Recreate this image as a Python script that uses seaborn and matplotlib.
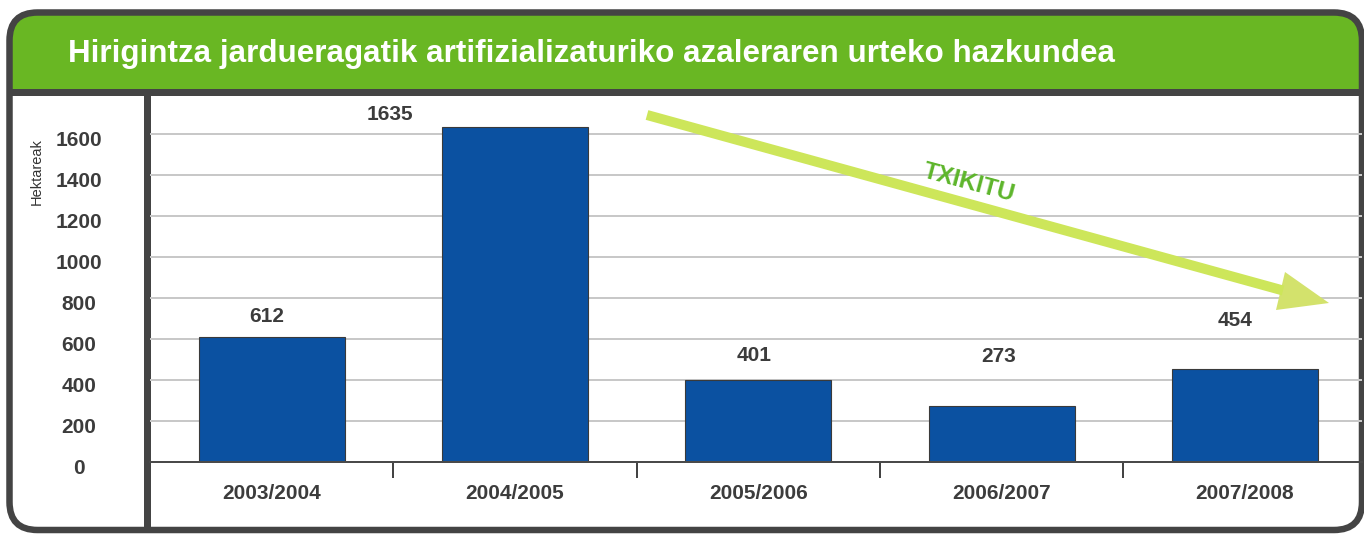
import matplotlib
matplotlib.use("Agg")
import matplotlib.pyplot as plt
import seaborn as sns
from matplotlib.patches import FancyBboxPatch, Rectangle, Polygon
from matplotlib.ticker import FixedLocator
from matplotlib.transforms import ScaledTranslation

# ---- data -------------------------------------------------------------
periods = ["2003/2004", "2004/2005", "2005/2006", "2006/2007", "2007/2008"]
hectares = [612, 1635, 401, 273, 454]
y_ticks = [0, 200, 400, 600, 800, 1000, 1200, 1400, 1600]

title = "Hirigintza jardueragatik artifizializaturiko azaleraren urteko hazkundea"
y_label = "Hektareak"
trend_label = "TXIKITU"

# ---- layout / style ---------------------------------------------------
W, H, DPI = 1364, 536, 100
PX = 72.0 / DPI                       # points per pixel
DARK = "#444444"
TEXT = "#3c3c3c"
GREEN = "#69b723"
BAR = "#0b51a1"
GRID = "#c8c8c8"
ARROW = "#cde65a"
ARROW_HEAD = "#d3e26c"
LABEL_GREEN = "#5db52b"

# value-label offsets from each bar top (pixels)
label_offsets = [(-5, 20), (-125, 12), (-4, 24), (-3, 50), (-10, 48)]

sns.set_theme(style="white")
plt.rcParams["font.family"] = ["Liberation Sans", "DejaVu Sans"]

fig = plt.figure(figsize=(W / DPI, H / DPI), dpi=DPI)

# background canvas in pixel coordinates (card, header, frame)
bg = fig.add_axes([0, 0, 1, 1], zorder=0)
bg.set_xlim(0, W)
bg.set_ylim(H, 0)
bg.axis("off")

card_x0, card_y0, card_x1, card_y1 = 9.5, 12.5, 1362.0, 530.0
card_fill = FancyBboxPatch((card_x0, card_y0), card_x1 - card_x0, card_y1 - card_y0,
                           boxstyle="round,pad=0,rounding_size=28",
                           facecolor="white", edgecolor="none")
bg.add_patch(card_fill)

header = Rectangle((0, 0), W, 91.5, facecolor=GREEN, edgecolor="none")
bg.add_patch(header)
header.set_clip_path(card_fill)

bg.plot([card_x0, card_x1], [91.5, 91.5], color=DARK, lw=7 * PX, solid_capstyle="butt")
bg.plot([146.5, 146.5], [91.5, card_y1], color=DARK, lw=7 * PX, solid_capstyle="butt")

card_edge = FancyBboxPatch((card_x0, card_y0), card_x1 - card_x0, card_y1 - card_y0,
                           boxstyle="round,pad=0,rounding_size=28",
                           facecolor="none", edgecolor=DARK, lw=6.5 * PX)
bg.add_patch(card_edge)

bg.text(68, 62, title, color="white", fontsize=22.6, fontweight="bold",
        ha="left", va="baseline")
bg.text(37, 172, y_label, color="#333333", fontsize=10.5, rotation=90,
        ha="center", va="center")

# ---- bar chart --------------------------------------------------------
ax_left, ax_right, ax_top, ax_bottom = 150, 1362, 95, 462
ax = fig.add_axes([ax_left / W, (H - ax_bottom) / H,
                   (ax_right - ax_left) / W, (ax_bottom - ax_top) / H], zorder=2)
ax.set_facecolor("none")

sns.barplot(x=periods, y=hectares, color=BAR, saturation=1, width=0.6,
            edgecolor="#3a3a3a", linewidth=0.8, ax=ax)

step = 243.0
ax.set_xlim(-0.5, -0.5 + (ax_right - 151.5) / step)
ax.set_ylim(0, 1790)
ax.set_yticks(y_ticks)
ax.set_xlabel("")
ax.set_ylabel("")

ax.yaxis.grid(True, color=GRID, lw=2 * PX)
ax.xaxis.grid(False)
ax.set_axisbelow(True)
for side in ("left", "right", "top"):
    ax.spines[side].set_visible(False)
ax.spines["bottom"].set_color("#4a4a4a")
ax.spines["bottom"].set_linewidth(2 * PX)

ax.tick_params(axis="y", length=0, pad=71 * PX, labelsize=15, labelcolor=TEXT)
shift_down = ScaledTranslation(0, -5 / DPI, fig.dpi_scale_trans)
for lab in ax.get_yticklabels():
    lab.set_fontweight("bold")
    lab.set_horizontalalignment("center")
    lab.set_transform(lab.get_transform() + shift_down)

ax.xaxis.set_minor_locator(FixedLocator([0.5, 1.5, 2.5, 3.5]))
ax.tick_params(axis="x", which="major", length=0, pad=16, labelsize=15, labelcolor=TEXT)
ax.tick_params(axis="x", which="minor", bottom=True, length=16 * PX, width=2 * PX,
               color=DARK, direction="out")
for lab in ax.get_xticklabels():
    lab.set_fontweight("bold")

for i, (v, (dx, dy)) in enumerate(zip(hectares, label_offsets)):
    ax.annotate(f"{v}", xy=(i, v), xytext=(dx, dy), textcoords="offset pixels",
                ha="center", va="center", fontsize=15, fontweight="bold", color=TEXT)

# ---- trend arrow overlay ---------------------------------------------
ov = fig.add_axes([0, 0, 1, 1], zorder=3)
ov.set_xlim(0, W)
ov.set_ylim(H, 0)
ov.axis("off")
ov.set_facecolor("none")
ov.plot([647, 1283], [115, 290.5], color=ARROW, lw=10 * PX, solid_capstyle="butt")
ov.add_patch(Polygon([(1285, 272), (1329, 303), (1276, 310)], closed=True,
                     facecolor=ARROW_HEAD, edgecolor="none"))
ov.text(969, 183, trend_label, color=LABEL_GREEN, fontsize=17.5, fontweight="bold",
        rotation=-15, ha="center", va="center", rotation_mode="anchor")

fig.savefig("out.png", dpi=DPI)
